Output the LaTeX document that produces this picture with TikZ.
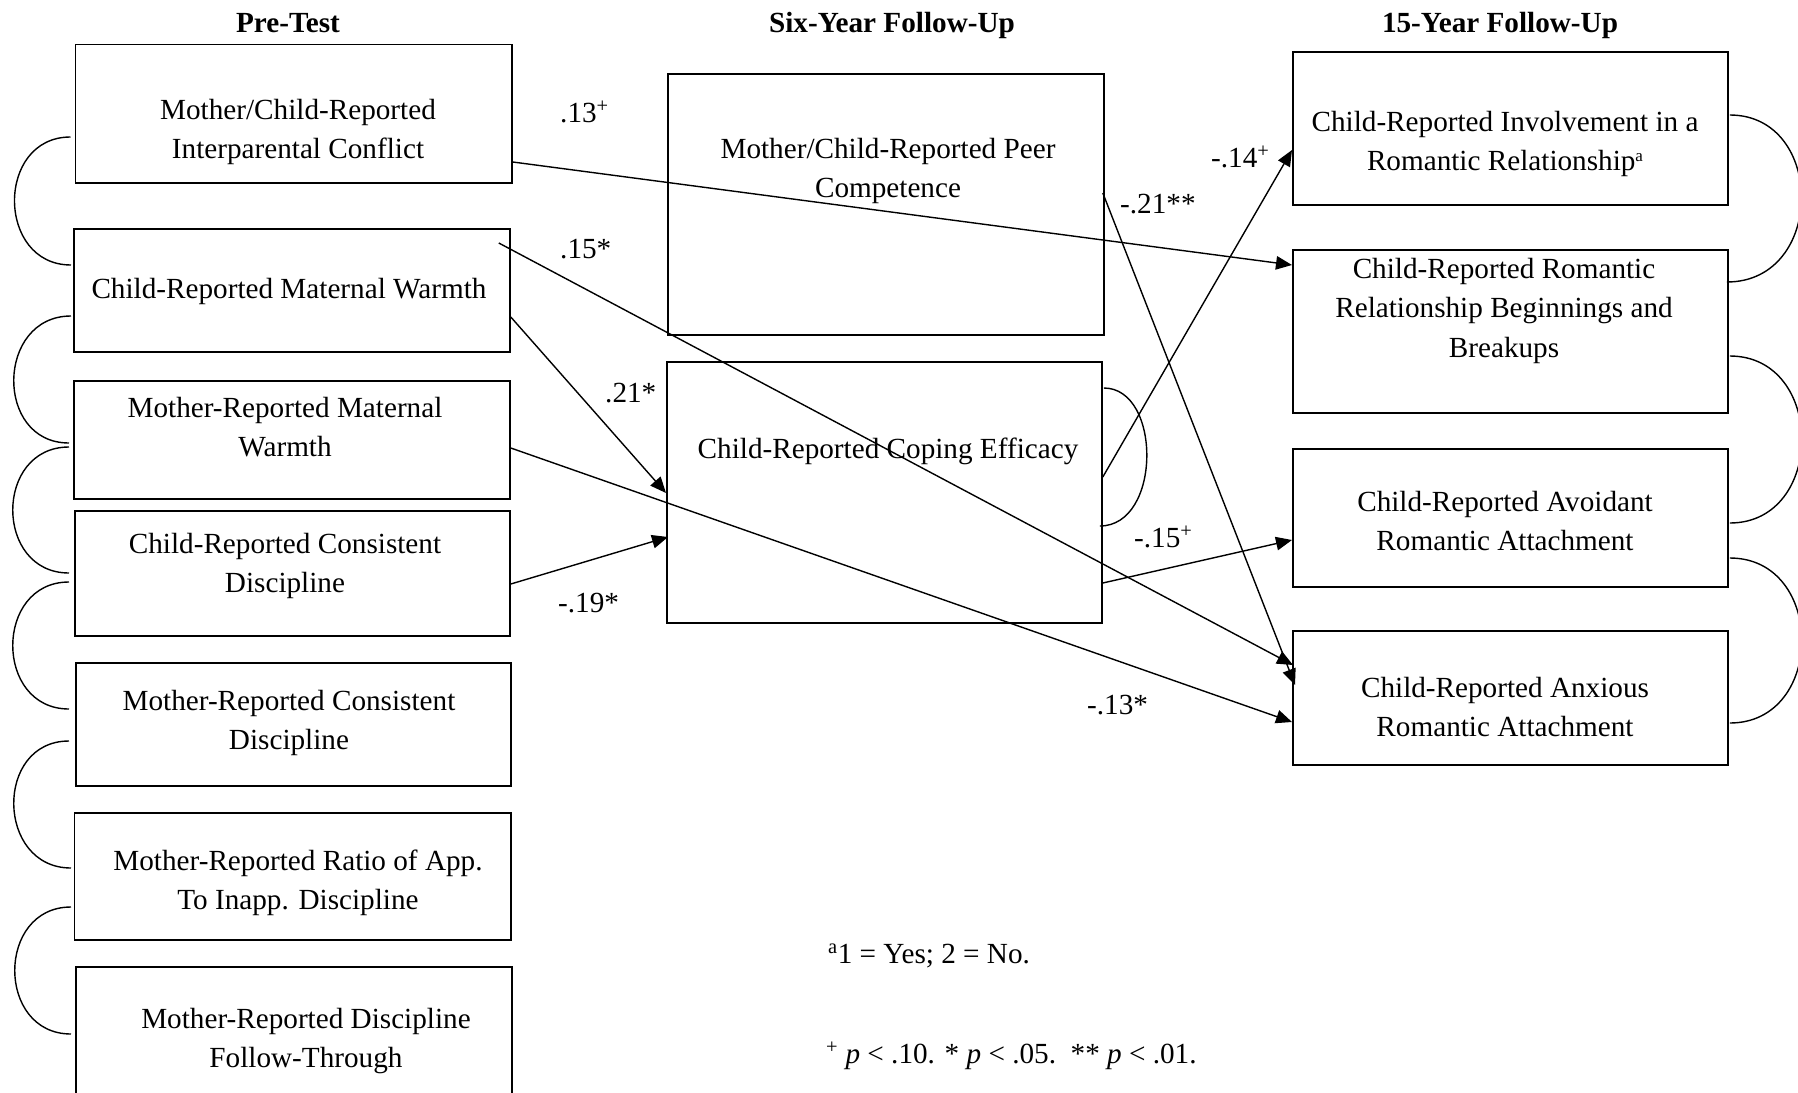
\documentclass[tikz,border=0pt]{standalone}
\usepackage{fontspec}
\setmainfont{Liberation Serif}
\usetikzlibrary{arrows.meta,calc}
\newcommand\tl[1]{\vtop{\baselineskip=39.5pt\lineskiplimit=-100pt\halign{\hfil##\hfil\cr#1\crcr}}}
\begin{document}
\begin{tikzpicture}[x=1pt,y=-1pt,
  every node/.style={font=\fontsize{29.2pt}{39.5pt}\selectfont},
  var/.style={draw=black,line width=1.8pt,anchor=north west,inner sep=0pt},
  txt/.style={anchor=base,inner sep=0pt},
  lab/.style={anchor=base west,inner sep=0pt},
  ttl/.style={anchor=base,inner sep=0pt,font=\fontsize{29.2pt}{39.5pt}\selectfont\bfseries},
  conn/.style={line width=1.4pt,-{Triangle[length=16pt,width=13.5pt]}},
  corr/.style={line width=1.4pt}]
\useasboundingbox (0,0) rectangle (1798,1092);
\clip (0,0) rectangle (1798,1092);
\fill[white] (0,0) rectangle (1798,1092);

% titles
\node[ttl] (h1) at (288,32) {Pre-Test};
\node[ttl] (h2) at (892,32) {Six-Year Follow-Up};
\node[ttl] (h3) at (1500,32) {15-Year Follow-Up};

% boxes
\node[var,minimum width=436.5pt,minimum height=138.5pt] (b1) at (74.5,43.5) {};
\node[var,minimum width=436pt,minimum height=123pt] (b2) at (73,228) {};
\node[var,minimum width=436pt,minimum height=118pt] (b3) at (73,380) {};
\node[var,minimum width=435pt,minimum height=125pt] (b4) at (74,510) {};
\node[var,minimum width=435pt,minimum height=123pt] (b5) at (75,662) {};
\node[var,minimum width=436.5pt,minimum height=127pt] (b6) at (73.5,812) {};
\node[var,minimum width=436pt,minimum height=160pt] (b7) at (75,966) {};
\node[var,minimum width=436pt,minimum height=261pt] (m1) at (667,73) {};
\node[var,minimum width=435pt,minimum height=261pt] (m2) at (666,361) {};
\node[var,minimum width=435pt,minimum height=153pt] (r1) at (1292,51) {};
\node[var,minimum width=435pt,minimum height=163pt] (r2) at (1292,249) {};
\node[var,minimum width=435pt,minimum height=138pt] (r3) at (1292,448) {};
\node[var,minimum width=435pt,minimum height=134pt] (r4) at (1292,630) {};

% box texts
\node[txt] (tb1) at (298,119) {\tl{Mother/Child-Reported\cr Interparental Conflict}};
\node[txt] (tb2) at (289,298) {\tl{Child-Reported Maternal Warmth}};
\node[txt] (tb3) at (285,417) {\tl{Mother-Reported Maternal\cr Warmth}};
\node[txt] (tb4) at (285,553) {\tl{Child-Reported Consistent\cr Discipline}};
\node[txt] (tb5) at (289,710) {\tl{Mother-Reported Consistent\cr Discipline}};
\node[txt] (tb6) at (298,870) {\tl{Mother-Reported Ratio of App.\cr To Inapp. Discipline}};
\node[txt] (tb7) at (306,1028) {\tl{Mother-Reported Discipline\cr Follow-Through}};
\node[txt] (tm1) at (888,158) {\tl{Mother/Child-Reported Peer\cr Competence}};
\node[txt] (tm2) at (888,458) {\tl{Child-Reported Coping Efficacy}};
\node[txt] (tr1) at (1505,131) {\tl{Child-Reported Involvement in a\cr Romantic Relationship{\fontsize{17pt}{17pt}\selectfont\raisebox{9pt}{a}}}};
\node[txt] (tr2) at (1504,278) {\tl{Child-Reported Romantic\cr Relationship Beginnings and\cr Breakups}};
\node[txt] (tr3) at (1505,511) {\tl{Child-Reported Avoidant\cr Romantic Attachment}};
\node[txt] (tr4) at (1505,697) {\tl{Child-Reported Anxious\cr Romantic Attachment}};

% correlations, left
\draw[corr] ($(b1.north west)+(-4,93.5)$) .. controls +(-75,0) and +(-75,0) .. ($(b2.north west)+(-2,37)$);
\draw[corr] ($(b2.north west)+(-2,88)$) .. controls +(-75,0) and +(-75,0) .. ($(b3.north west)+(-4,63)$);
\draw[corr] ($(b3.north west)+(-4,67)$) .. controls +(-75,0) and +(-75,0) .. ($(b4.north west)+(-5,63)$);
\draw[corr] ($(b4.north west)+(-5,72)$) .. controls +(-75,0) and +(-75,0) .. ($(b5.north west)+(-6,47)$);
\draw[corr] ($(b5.north west)+(-6,79)$) .. controls +(-75,0) and +(-75,0) .. ($(b6.north west)+(-2.5,56)$);
\draw[corr] ($(b6.north west)+(-2.5,95)$) .. controls +(-75,0) and +(-75,0) .. ($(b7.north west)+(-4,68)$);
% correlations, right
\draw[corr] ($(r1.north east)+(1,64)$) .. controls +(96,0) and +(99,0) .. ($(r2.north east)+(-2,33)$);
\draw[corr] ($(r2.north east)+(1,107)$) .. controls +(96,0) and +(96,0) .. ($(r3.north east)+(1,75)$);
\draw[corr] ($(r3.north east)+(1,110)$) .. controls +(96,0) and +(96,0) .. ($(r4.north east)+(1,93)$);
% coping loop
\draw[corr] ($(m2.north east)+(1,27)$) .. controls +(58,0) and +(62,0) .. ($(m2.north east)+(-3,165)$);

% paths
\draw[conn] ($(b1.north east)+(0,118.5)$) -- ($(r2.north west)+(0,16)$);
\draw[conn] ($(b2.north east)+(-12,15)$) -- ($(r4.north west)+(1,35)$);
\draw[conn] ($(b2.north east)+(0,89)$) -- ($(m2.north west)+(0,132)$);
\draw[conn] ($(b3.north east)+(0,68)$) -- ($(r4.north west)+(0,92)$);
\draw[conn] ($(b4.north east)+(0,74)$) -- ($(m2.north west)+(2,176)$);
\draw[conn] ($(m2.north east)+(0,116)$) -- ($(r1.north west)+(0,99)$);
\draw[conn] ($(m1.north east)+(-2,120)$) -- ($(r4.north west)+(3,55)$);
\draw[conn] ($(m2.north east)+(0,222)$) -- ($(r3.north west)+(0,92)$);

% coefficients
\node[lab] (l1) at (560,122) {.13\textsuperscript{+}};
\node[lab] (l2) at (560,258) {.15*};
\node[lab] (l3) at (605,402) {.21*};
\node[lab] (l4) at (558,612) {-.19*};
\node[lab] (l5) at (1120,213) {-.21**};
\node[lab] (l6) at (1211,167) {-.14\textsuperscript{+}};
\node[lab] (l7) at (1134,547) {-.15\textsuperscript{+}};
\node[lab] (l8) at (1087,714) {-.13*};

% notes
\node[lab] (n1) at (828,963) {\textsuperscript{a}1 = Yes; 2 = No.};
\node[lab] (n2) at (826,1063) {\textsuperscript{+} \textit{p} < .10. * \textit{p} < .05.\ \ ** \textit{p} < .01.};
\end{tikzpicture}
\end{document}
